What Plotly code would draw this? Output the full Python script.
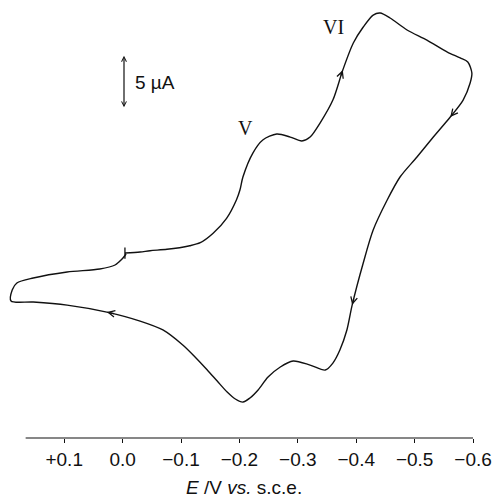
import plotly.graph_objects as go

# Potential (V vs. s.c.e.) and current (µA, arbitrary zero) along the cyclic scan
potential = [-0.004, -0.030, -0.047, -0.076, -0.115, -0.133, -0.155, -0.178, -0.195, -0.201,
             -0.206, -0.223, -0.240, -0.264, -0.287, -0.307, -0.321, -0.338, -0.360, -0.377,
             -0.395, -0.412, -0.429, -0.441, -0.458, -0.487, -0.521, -0.556, -0.578, -0.591,
             -0.598, -0.595, -0.583, -0.561, -0.532, -0.504, -0.475, -0.453, -0.429, -0.412,
             -0.393, -0.384, -0.372, -0.360, -0.347, -0.321, -0.292, -0.270, -0.249, -0.232,
             -0.218, -0.206, -0.193, -0.179, -0.162, -0.145, -0.124, -0.103, -0.069, -0.030,
             0.027, 0.095, 0.153, 0.191, 0.189, 0.181, 0.153, 0.095, 0.039, 0.013,
             0.001, -0.006]
current = [0.00, 0.09, 0.22, 0.35, 0.69, 0.97, 1.86, 3.27, 5.03, 5.97,
           7.17, 9.43, 10.66, 11.23, 10.94, 10.57, 10.94, 12.26, 14.43, 17.26,
           19.81, 21.32, 22.45, 22.64, 22.17, 21.04, 20.09, 18.96, 18.40, 18.02,
           16.98, 16.04, 14.43, 12.83, 10.94, 9.06, 7.17, 5.00, 2.17, -0.94,
           -4.91, -7.26, -9.15, -10.38, -11.04, -10.57, -10.19, -10.75, -11.70, -12.92,
           -13.68, -14.06, -13.77, -13.11, -12.08, -11.04, -9.81, -8.68, -7.26, -6.42,
           -5.57, -4.91, -4.62, -4.53, -3.49, -2.83, -2.36, -1.79, -1.51, -1.13,
           -0.57, -0.09]

# scan-direction arrows placed at these sample indices
arrow_index = [9, 19, 33, 40, 60]

tick_values = [0.1, 0.0, -0.1, -0.2, -0.3, -0.4, -0.5, -0.6]
tick_labels = ["+0.1", "0.0", "\u22120.1", "\u22120.2", "\u22120.3", "\u22120.4", "\u22120.5", "\u22120.6"]

peak_labels = ["V", "VI"]
peak_label_pos_E = [-0.2096, -0.3603]
peak_label_pos_I = [11.79, 21.32]

scale_bar_uA = 5
scale_bar_E = -0.0024
scale_bar_bottom = 13.6

SANS = "Liberation Sans, Arial, sans-serif"
SERIF = "Liberation Serif, Times New Roman, serif"
INK = "#111111"

fig = go.Figure()
fig.add_trace(go.Scatter(
    x=potential, y=current, mode="lines",
    line=dict(color=INK, width=1.4, shape="spline", smoothing=0.8),
    hoverinfo="skip", showlegend=False))
# start-of-scan marker
fig.add_trace(go.Scatter(
    x=[potential[0]], y=[current[0]], mode="markers",
    marker=dict(symbol="line-ns-open", size=8, color=INK, line=dict(color=INK, width=1.3)),
    hoverinfo="skip", showlegend=False))

annotations = []
for k in arrow_index:
    dx = potential[k + 1] - potential[k - 1]
    dy = current[k + 1] - current[k - 1]
    annotations.append(dict(
        x=potential[k], y=current[k], ax=potential[k] - 0.12 * dx, ay=current[k] - 0.12 * dy,
        xref="x", yref="y", axref="x", ayref="y", text="", showarrow=True,
        arrowhead=5, arrowsize=1.0, arrowwidth=1.3, arrowcolor=INK, standoff=0))

for lab, ex, iy in zip(peak_labels, peak_label_pos_E, peak_label_pos_I):
    annotations.append(dict(x=ex, y=iy, xref="x", yref="y", text=lab, showarrow=False,
                            font=dict(family=SERIF, size=20, color=INK)))

# current scale bar
annotations.append(dict(
    x=scale_bar_E, y=scale_bar_bottom + scale_bar_uA, ax=scale_bar_E, ay=scale_bar_bottom,
    xref="x", yref="y", axref="x", ayref="y", text="", showarrow=True,
    arrowhead=5, startarrowhead=5, arrowside="end+start", arrowsize=0.8, startarrowsize=0.8,
    arrowwidth=1.2, arrowcolor=INK, standoff=0, startstandoff=0))
annotations.append(dict(
    x=scale_bar_E - 0.016, y=scale_bar_bottom + scale_bar_uA / 2, xref="x", yref="y",
    text="5 \u00b5A", showarrow=False, xanchor="left",
    font=dict(family=SANS, size=19, color=INK)))

# axis title
annotations.append(dict(
    x=0.49, y=-0.114, xref="paper", yref="paper", xanchor="center", yanchor="middle",
    text="<i>E</i> /V <i>vs.</i> s.c.e.", showarrow=False,
    font=dict(family=SANS, size=19, color=INK)))

fig.update_layout(
    width=497, height=498,
    margin=dict(l=0, r=0, t=0, b=60),
    paper_bgcolor="white", plot_bgcolor="white",
    annotations=annotations,
    shapes=[dict(type="line", xref="x", yref="paper", x0=0.166, x1=-0.6, y0=0, y1=0,
                 line=dict(color=INK, width=1.2))],
    xaxis=dict(range=[0.2099, -0.641], showgrid=False, zeroline=False, showline=False,
               tickmode="array", tickvals=tick_values, ticktext=tick_labels,
               ticks="outside", ticklen=4, tickwidth=1, tickcolor=INK,
               tickfont=dict(family=SANS, size=19, color=INK)),
    yaxis=dict(range=[-17.45, 23.87], visible=False),
)

fig.write_html("out.html")
